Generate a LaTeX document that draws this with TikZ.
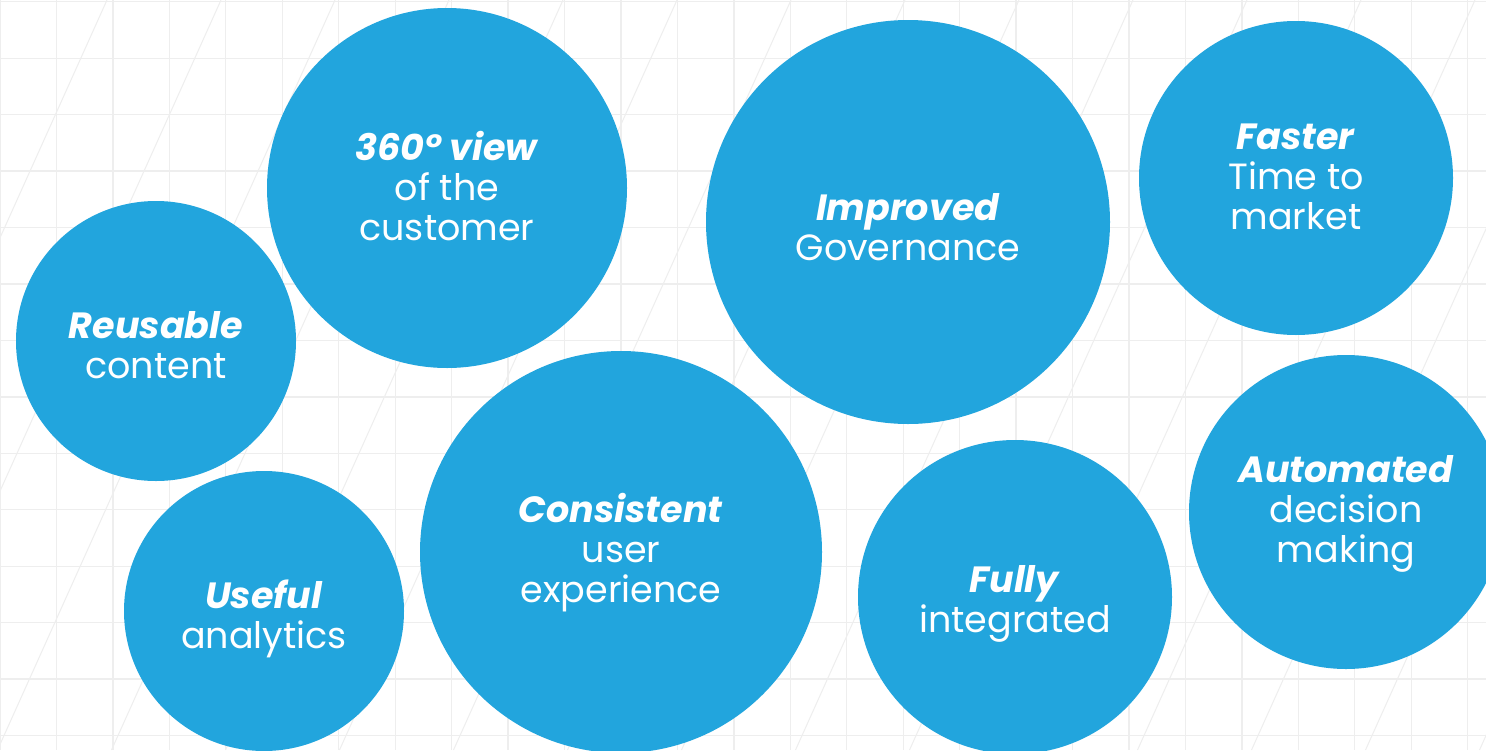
\documentclass[tikz,border=0pt]{standalone}
\usepackage{fontspec}
\setmainfont{Poppins}
\definecolor{bubbleblue}{RGB}{34,165,221}
\definecolor{gridgray}{RGB}{238,238,238}

\begin{document}
\begin{tikzpicture}[x=1pt,y=-1pt,
  bubble/.style={circle,fill=bubbleblue,inner sep=0pt},
  caption/.style={text=white,inner sep=0pt,align=center,
    font=\fontsize{36.5}{40}\selectfont},
  gridline/.style={gridgray,line width=1.3pt}]
% Canvas
\useasboundingbox (0,0) rectangle (1486,750);
\clip (0,0) rectangle (1486,750);
\fill[white] (0,0) rectangle (1486,750);

% Grid
\foreach \i in {0,...,26}{
  \draw[gridline] ({56.45*\i},0) -- ({56.45*\i},750);
}
\foreach \j in {0,...,13}{
  \draw[gridline] (0,{1.7+56.45*\j}) -- (1486,{1.7+56.45*\j});
}
\foreach \k in {0,...,15}{
  \draw[gridgray,line width=1pt] ({107+114*\k},0) -- ({107+114*\k-337.5},750);
}

% Bubbles
\node[bubble,minimum size=280] (reusable) at (156,341) {};
\node[bubble,minimum size=360] (view) at (447,188) {};
\node[bubble,minimum size=280] (useful) at (264,611) {};
\node[bubble,minimum size=402] (consistent) at (621,552) {};
\node[bubble,minimum size=404] (governance) at (908,222) {};
\node[bubble,minimum size=314] (faster) at (1296,178) {};
\node[bubble,minimum size=314] (fully) at (1015,597) {};
\node[bubble,minimum size=314] (automated) at (1346,512) {};

% Captions
\node[caption] (reusable-text) at ([yshift=-4]reusable.center) {\textbf{\textit{Reusable}}\\content};
\node[caption] (view-text) at ([yshift=2]view.center) {\textbf{\textit{360° view}}\\of the\\customer};
\node[caption] (useful-text) at ([yshift=-8]useful.center) {\textbf{\textit{Useful}}\\analytics};
\node[caption] (consistent-text) at ([yshift=-1]consistent.center) {\textbf{\textit{Consistent}}\\user\\experience};
\node[caption] (governance-text) at ([yshift=-5]governance.center) {\textbf{\textit{Improved}}\\Governance};
\node[caption] (faster-text) at ([yshift=1]faster.center) {\textbf{\textit{Faster}}\\Time to\\market};
\node[caption] (fully-text) at ([yshift=-7]fully.center) {\textbf{\textit{Fully}}\\integrated};
\node[caption] (automated-text) at ([yshift=-2]automated.center) {\textbf{\textit{Automated}}\\decision\\making};

\end{tikzpicture}
\end{document}
